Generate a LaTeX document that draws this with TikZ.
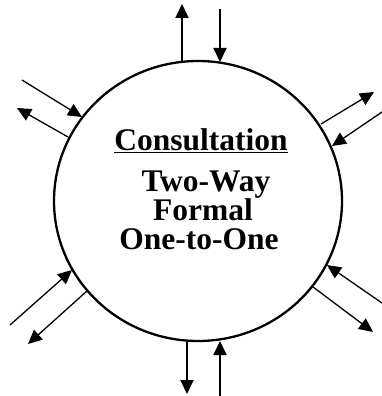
\documentclass[tikz,border=0pt]{standalone}
\usepackage{fontspec}
\setmainfont{Liberation Serif}
\usetikzlibrary{arrows.meta,shapes.geometric}
\tikzset{
  conn/.style={line width=1.3pt,-{Triangle[length=14pt,width=13pt]}},
  vconn/.style={line width=2pt,-{Triangle[length=14pt,width=13pt]}},
  lbl/.style={font=\fontsize{31.5}{33}\selectfont\bfseries,anchor=base,inner sep=0pt}
}
\begin{document}
\begin{tikzpicture}[x=1pt,y=-1pt]
\useasboundingbox (0,0) rectangle (382,396);
\node[ellipse,draw,line width=2.3pt,minimum width=288pt,minimum height=280pt,inner sep=0pt] (c) at (198,201) {};
\node[lbl] (t1) at (201,150) {\underline{Consultation}};
\node[lbl] (t2) at (206,191) {Two-Way};
\node[lbl] (t3) at (203,220) {Formal};
\node[lbl] (t4) at (199,249) {One-to-One};
% top
\coordinate (tua) at (182,62); \coordinate (tub) at (182,4);
\coordinate (tda) at (220,9);  \coordinate (tdb) at (220,62);
\draw[vconn] (tua) -- (tub);
\draw[vconn] (tda) -- (tdb);
% bottom
\coordinate (bda) at (187,342); \coordinate (bdb) at (187,394);
\coordinate (bua) at (220,396); \coordinate (bub) at (220,341);
\draw[vconn] (bda) -- (bdb);
\draw[vconn] (bua) -- (bub);
% upper left
\coordinate (ulia) at (22,80); \coordinate (ulib) at (82,117);
\coordinate (uloa) at (68,137); \coordinate (ulob) at (17,108);
\draw[conn] (ulia) -- (ulib);
\draw[conn] (uloa) -- (ulob);
% upper right
\coordinate (uroa) at (321,124); \coordinate (urob) at (374,92);
\coordinate (uria) at (382,112); \coordinate (urib) at (332,146);
\draw[conn] (uroa) -- (urob);
\draw[conn] (uria) -- (urib);
% lower left
\coordinate (llia) at (10,325); \coordinate (llib) at (72,270);
\coordinate (lloa) at (87,291); \coordinate (llob) at (28,344);
\draw[conn] (llia) -- (llib);
\draw[conn] (lloa) -- (llob);
% lower right
\coordinate (lria) at (382,303); \coordinate (lrib) at (327,265);
\coordinate (lroa) at (313,287); \coordinate (lrob) at (373,332);
\draw[conn] (lria) -- (lrib);
\draw[conn] (lroa) -- (lrob);
\end{tikzpicture}
\end{document}
